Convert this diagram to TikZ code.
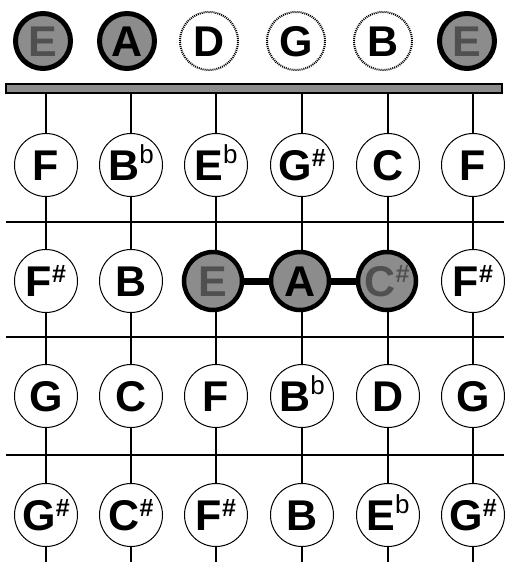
\documentclass[tikz,border=0pt]{standalone}
\usepackage{fontspec}
\setmainfont{Liberation Sans}
\usepackage{tikz}
\definecolor{stoneGray}{RGB}{140,140,140}
\definecolor{fadeInk}{RGB}{80,80,80}
\newcommand{\upSharp}{\raisebox{14pt}{\fontsize{25}{25}\selectfont\#}}
\newcommand{\upFlat}{\raisebox{17pt}{\fontsize{26}{26}\selectfont\mdseries b}}

\begin{document}
\begin{tikzpicture}[x=1pt, y=-1pt,
      note/.style={circle, draw, line width=1pt, fill=white, minimum size=63pt,
                   inner sep=0pt, font=\fontsize{43}{43}\selectfont\bfseries,
                   text height=31pt, text depth=0pt},
      open/.style={note, densely dotted, line width=2pt, minimum size=58pt},
      hit/.style={note, fill=stoneGray, line width=4.5pt, minimum size=58pt},
      tophit/.style={hit, line width=5pt, minimum size=55pt},
      faded/.style={text=fadeInk},
      nutbar/.style={draw, line width=1.2pt, fill=stoneGray, minimum width=496pt,
                     minimum height=9pt, inner sep=0pt},
      string/.style={line width=1.5pt},
      fret/.style={line width=2pt},
      chord/.style={line width=7pt}
    ]
    \useasboundingbox (0,0) rectangle (504,562);

    \node[nutbar] (nut) at (254,88.5) {};

    % strings and frets
    \draw[string] (46,93)  -- (46,562);
    \draw[string] (131,93) -- (131,562);
    \draw[string] (216,93) -- (216,562);
    \draw[string] (302,93) -- (302,562);
    \draw[string] (388,93) -- (388,562);
    \draw[string] (473,93) -- (473,562);
    \draw[fret] (6,222) -- (504,222);
    \draw[fret] (6,337) -- (504,337);
    \draw[fret] (6,455) -- (504,455);

    % open strings
    \node[tophit, faded] (op1) at (43,41)  {E};
    \node[tophit]        (op2) at (127,41) {A};
    \node[open]          (op3) at (209,41) {D};
    \node[open]          (op4) at (296,41) {G};
    \node[open]          (op5) at (383,41) {B};
    \node[tophit, faded] (op6) at (467,41) {E};

    % fret 1
    \node[note] (f1s1) at (46,165)  {F};
    \node[note] (f1s2) at (131,165) {B\upFlat};
    \node[note] (f1s3) at (216,165) {E\upFlat};
    \node[note] (f1s4) at (302,165) {G\upSharp};
    \node[note] (f1s5) at (388,165) {C};
    \node[note] (f1s6) at (473,165) {F};

    % fret 2
    \node[note]       (f2s1) at (46,281)  {F\upSharp};
    \node[note]       (f2s2) at (131,281) {B};
    \node[hit, faded] (f2s3) at (213,281) {E};
    \node[hit]        (f2s4) at (300,281) {A};
    \node[hit, faded] (f2s5) at (387,281) {C\upSharp};
    \node[note]       (f2s6) at (473,281) {F\upSharp};

    % fret 3
    \node[note] (f3s1) at (46,396)  {G};
    \node[note] (f3s2) at (131,396) {C};
    \node[note] (f3s3) at (216,396) {F};
    \node[note] (f3s4) at (302,396) {B\upFlat};
    \node[note] (f3s5) at (388,396) {D};
    \node[note] (f3s6) at (473,396) {G};

    % fret 4
    \node[note] (f4s1) at (46,515)  {G\upSharp};
    \node[note] (f4s2) at (131,515) {C\upSharp};
    \node[note] (f4s3) at (216,515) {F\upSharp};
    \node[note] (f4s4) at (302,515) {B};
    \node[note] (f4s5) at (388,515) {E\upFlat};
    \node[note] (f4s6) at (473,515) {G\upSharp};

    \draw[chord] (f2s3) -- (f2s4) -- (f2s5);
  \end{tikzpicture}
\end{document}
